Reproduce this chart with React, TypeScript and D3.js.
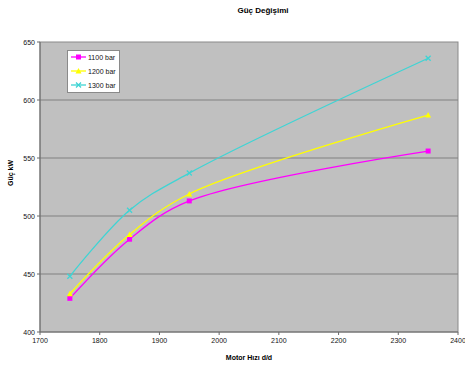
import React from "react";
import * as d3 from "d3";

const speeds = [1750, 1850, 1950, 2350];
const series1100 = [429, 480, 513, 556];
const series1200 = [433, 484, 519, 587];
const series1300 = [448, 505, 537, 636];
const seriesNames = ["1100 bar", "1200 bar", "1300 bar"];
const seriesColors = ["#ff00ff", "#ffff00", "#3fd4d4"];
const xTicks = [1700, 1800, 1900, 2000, 2100, 2200, 2300, 2400];
const yTicks = [400, 450, 500, 550, 600, 650];

const W = 465;
const H = 366;
const plot = { left: 40, right: 458, top: 42, bottom: 332 };
const font = "Arial, 'Liberation Sans', sans-serif";

export default function App() {
  const x = d3.scaleLinear().domain([1700, 2400]).range([plot.left, plot.right]);
  const y = d3.scaleLinear().domain([400, 650]).range([plot.bottom, plot.top]);
  const line = d3
    .line<number>()
    .x((_, i) => x(speeds[i]))
    .y((d) => y(d))
    .curve(d3.curveCatmullRom.alpha(0.5));
  const allSeries = [series1100, series1200, series1300];

  const marker = (k: number, cx: number, cy: number, key: string) => {
    const c = seriesColors[k];
    if (k === 0) return <rect key={key} x={cx - 2.5} y={cy - 2.5} width={5} height={5} fill={c} />;
    if (k === 1)
      return <path key={key} d={`M${cx},${cy - 3}L${cx + 3},${cy + 2.5}L${cx - 3},${cy + 2.5}Z`} fill={c} />;
    return (
      <path
        key={key}
        d={`M${cx - 2.5},${cy - 2.5}L${cx + 2.5},${cy + 2.5}M${cx - 2.5},${cy + 2.5}L${cx + 2.5},${cy - 2.5}`}
        stroke={c}
        strokeWidth={1.3}
      />
    );
  };

  return (
    <svg width={W} height={H} style={{ position: "absolute", left: 0, top: 0, background: "#fff" }}>
      <text x={263} y={13} textAnchor="middle" fontFamily={font} fontSize={8} fontWeight="bold" fill="#000">
        Güç Değişimi
      </text>

      <rect
        x={plot.left}
        y={plot.top}
        width={plot.right - plot.left}
        height={plot.bottom - plot.top}
        fill="#c0c0c0"
        stroke="#8a8a8a"
        strokeWidth={1}
      />
      {yTicks.slice(1, -1).map((t) => (
        <line key={t} x1={plot.left} x2={plot.right} y1={y(t)} y2={y(t)} stroke="#808080" strokeWidth={1} />
      ))}

      <line x1={plot.left} x2={plot.left} y1={plot.top} y2={plot.bottom} stroke="#6a6a6a" />
      <line x1={plot.left} x2={plot.right} y1={plot.bottom} y2={plot.bottom} stroke="#6a6a6a" />

      {yTicks.map((t) => (
        <g key={t}>
          <line x1={plot.left - 3} x2={plot.left} y1={y(t)} y2={y(t)} stroke="#6a6a6a" />
          <text x={35} y={y(t) + 2.5} textAnchor="end" fontFamily={font} fontSize={7} fill="#111">
            {t}
          </text>
        </g>
      ))}
      {xTicks.map((t) => (
        <g key={t}>
          <line x1={x(t)} x2={x(t)} y1={plot.bottom} y2={plot.bottom + 3} stroke="#6a6a6a" />
          <text x={x(t)} y={343} textAnchor="middle" fontFamily={font} fontSize={7} fill="#111">
            {t}
          </text>
        </g>
      ))}

      <text
        transform={`translate(13,${(plot.top + plot.bottom) / 2 - 14}) rotate(-90)`}
        textAnchor="middle"
        fontFamily={font}
        fontSize={7}
        fontWeight="bold"
        fill="#000"
      >
        Güç kW
      </text>
      <text x={249} y={360} textAnchor="middle" fontFamily={font} fontSize={7} fontWeight="bold" fill="#000">
        Motor Hızı d/d
      </text>

      {allSeries.map((s, k) => (
        <g key={k}>
          <path d={line(s) || ""} fill="none" stroke={seriesColors[k]} strokeWidth={1.3} />
          {s.map((v, i) => marker(k, x(speeds[i]), y(v), `${k}-${i}`))}
        </g>
      ))}

      <g>
        <rect x={67.5} y={50.5} width={52} height={42} fill="#fff" stroke="#8a8a8a" />
        {seriesNames.map((n, k) => {
          const ly = 57 + k * 14;
          return (
            <g key={n}>
              <line x1={71} x2={86} y1={ly} y2={ly} stroke={seriesColors[k]} strokeWidth={1.3} />
              {marker(k, 78.5, ly, `lg-${k}`)}
              <text x={88} y={ly + 2.5} fontFamily={font} fontSize={7} fill="#111">
                {n}
              </text>
            </g>
          );
        })}
      </g>
    </svg>
  );
}
